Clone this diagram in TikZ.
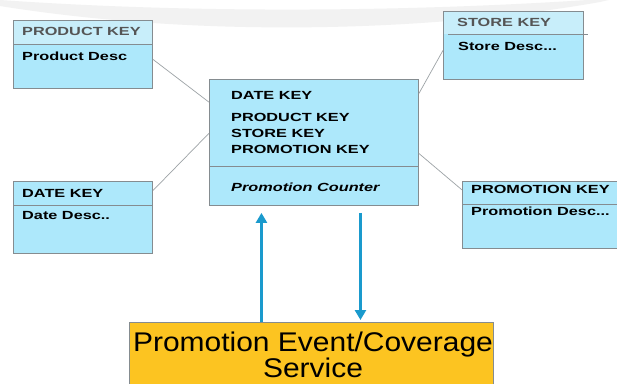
\documentclass[tikz,border=0pt]{standalone}
\usepackage{fontspec}
\setmainfont{Liberation Sans}
\newfontfamily\keyfont[FakeStretch=1.38]{Liberation Sans}
\newfontfamily\bigfont[FakeStretch=1.11]{Liberation Sans}
\usetikzlibrary{arrows.meta,calc}
\definecolor{cyanfill}{HTML}{ADE8FB}
\definecolor{hdrfill}{HTML}{C8EEFA}
\definecolor{boxgrey}{HTML}{858C90}
\definecolor{hdrtext}{HTML}{555555}
\definecolor{arrblue}{HTML}{1A9ACD}
\definecolor{svcfill}{HTML}{FCC421}
\definecolor{arcgrey}{HTML}{F2F2F2}
\begin{document}
\begin{tikzpicture}[x=1pt,y=-1pt,
  tbl/.style={draw=boxgrey, fill=cyanfill, line width=0.9pt, inner sep=0pt, anchor=north west},
  txt/.style={anchor=base west, inner sep=0pt, font=\keyfont\bfseries\fontsize{11.8}{14}\selectfont},
  hdr/.style={txt, text=hdrtext},
  divider/.style={draw=boxgrey, line width=0.9pt},
  link/.style={draw=boxgrey!80, line width=0.7pt},
  arr/.style={draw=arrblue, line width=3.2pt, -{Triangle[width=11pt,length=10pt]}},
  svc/.style={draw=boxgrey, fill=svcfill, line width=0.9pt, inner sep=0pt, anchor=north west},
  bigtxt/.style={anchor=base, inner sep=0pt, font=\bigfont\fontsize{27}{30}\selectfont}]
\clip (0,0) rectangle (617,383);
\fill[white] (0,0) rectangle (617,383);
% faint decorative arc
\fill[arcgrey] (0,0) .. controls (200,14) and (420,12) .. (617,-2) -- (600,2) .. controls (430,32) and (200,38) .. (0,6) -- cycle;

% product dimension
\node[tbl, minimum width=139pt, minimum height=68pt] (prod) at (13,20) {};
\fill[hdrfill] (13.5,20.5) rectangle (151.5,44);
\draw[divider] (13,44) -- (152,44);
\node[hdr] (prodk) at (22,35) {PRODUCT KEY};
\node[txt] (prodd) at (22,60) {Product Desc};

% store dimension
\node[tbl, minimum width=140pt, minimum height=68pt] (store) at (443,11) {};
\fill[hdrfill] (443.5,11.5) rectangle (582.5,34);
\draw[divider] (448,34) -- (588,34);
\node[hdr] (storek) at (457,26) {STORE KEY};
\node[txt] (stored) at (458,50) {Store Desc...};

% date dimension
\node[tbl, minimum width=139pt, minimum height=72pt] (date) at (13,181) {};
\draw[divider] (13,205) -- (152,205);
\node[txt] (datek) at (22,197) {DATE KEY};
\node[txt] (dated) at (22,219) {Date Desc..};

% promotion dimension
\node[tbl, minimum width=163pt, minimum height=67pt] (promo) at (462,181) {};
\draw[divider] (462,204) -- (625,204);
\node[txt] (promok) at (471,193) {PROMOTION KEY};
\node[txt] (promod) at (471,215) {Promotion Desc...};

% fact table
\node[tbl, minimum width=209pt, minimum height=126pt] (fact) at (209,79) {};
\draw[divider] (209,166) -- (418,166);
\node[txt] (f1) at (231,99) {DATE KEY};
\node[txt] (f2) at (231,121) {PRODUCT KEY};
\node[txt] (f3) at (231,137) {STORE KEY};
\node[txt] (f4) at (231,153) {PROMOTION KEY};
\node[txt, font=\keyfont\bfseries\itshape\fontsize{11.8}{14}\selectfont] (f5) at (231,191) {Promotion Counter};

% connectors
\draw[link] (prod.-4) -- (fact.159.5);
\draw[link] (date.21) -- (fact.175);
\draw[link] (store.-176) -- (fact.25.6);
\draw[link] (promo.163.3) -- (fact.-6);

% service box
\node[svc, minimum width=364pt, minimum height=80pt] (svc) at (129,322) {};
\node[bigtxt] (s1) at (313,351) {Promotion Event/Coverage};
\node[bigtxt] (s2) at (313,377.5) {Service};

% arrows
\draw[arr, shorten >=7pt] ([xshift=-50pt]svc.north) -- ([xshift=-50pt]svc.north |- fact.south);
\draw[arr, shorten <=7pt, shorten >=2pt] ([xshift=49pt]svc.north |- fact.south) -- ([xshift=49pt]svc.north);
\end{tikzpicture}
\end{document}
